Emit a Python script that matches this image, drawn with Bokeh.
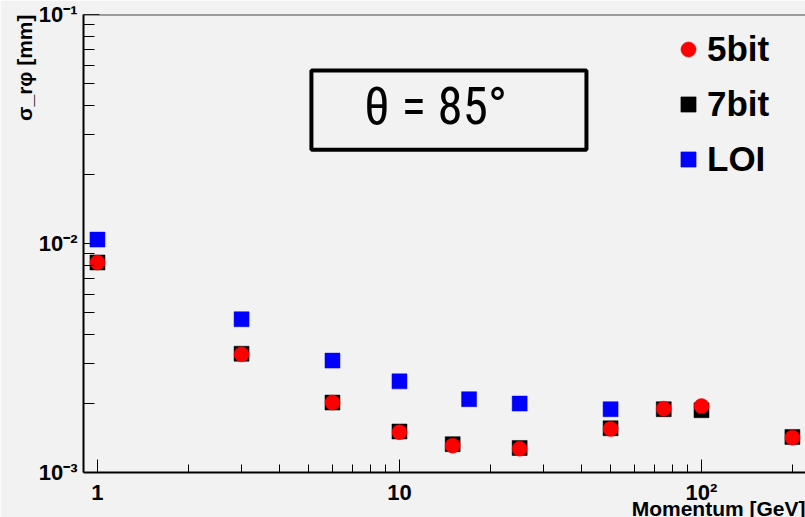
from bokeh.plotting import figure
from bokeh.models import (FixedTicker, Legend, LegendItem, Label, BoxAnnotation, Span, Title)
from bokeh.embed import file_html
from bokeh.resources import INLINE

# ---- data ----
momentum_5bit = [1, 3, 6, 10, 15, 25, 50, 75, 100, 200]
sigma_5bit = [0.00826, 0.00328, 0.00202, 0.00150, 0.00131, 0.00127, 0.00155, 0.00190, 0.00195, 0.00142]

momentum_7bit = [1, 3, 6, 10, 15, 25, 50, 75, 100, 200]
sigma_7bit = [0.00826, 0.00330, 0.00202, 0.00151, 0.00133, 0.00128, 0.00156, 0.00189, 0.00187, 0.00143]

momentum_loi = [1, 3, 6, 10, 17, 25, 50]
sigma_loi = [0.0104, 0.00467, 0.00308, 0.00250, 0.00209, 0.00200, 0.00189]

x_major_ticks = [1, 10, 100]
x_tick_labels = ["1", "10", "10\u00b2"]
y_major_ticks = [0.001, 0.01, 0.1]
y_tick_labels = ["10\u207b\u00b3", "10\u207b\u00b2", "10\u207b\u00b9"]

x_title = "Momentum [GeV]"
y_title = "\u03c3_r\u03c6 [mm]"
box_text = "\u03b8 = 85\u00b0"

BG = "#f2f2f2"
FONT = "Liberation Sans"

p = figure(width=805, height=517, x_axis_type="log", y_axis_type="log",
           x_range=(0.899, 221), y_range=(0.001, 0.1),
           output_backend="svg", toolbar_location=None, title=None,
           min_border_left=83, min_border_right=0, min_border_top=14,
           min_border_bottom=45)
p.background_fill_color = BG
p.border_fill_color = BG
p.outline_line_color = None
p.xgrid.visible = False
p.ygrid.visible = False

x_minor = [m * 10 ** e for e in range(0, 3) for m in range(2, 10)]
y_minor = [m * 10.0 ** e for e in (-3, -2) for m in range(2, 10)]
p.xaxis.ticker = FixedTicker(ticks=x_major_ticks, minor_ticks=x_minor)
p.yaxis.ticker = FixedTicker(ticks=y_major_ticks, minor_ticks=y_minor)
p.xaxis.major_label_overrides = {t: s for t, s in zip(x_major_ticks, x_tick_labels)}
p.yaxis.major_label_overrides = {t: s for t, s in zip(y_major_ticks, y_tick_labels)}

for ax in (p.xaxis, p.yaxis):
    ax.axis_line_color = "black"
    ax.axis_line_width = 2
    ax.major_tick_line_color = "black"
    ax.minor_tick_line_color = "black"
    ax.major_tick_out = 0
    ax.minor_tick_out = 0
    ax.major_label_text_font = FONT
    ax.major_label_text_font_style = "bold"
    ax.major_label_text_font_size = "22px"
    ax.major_label_text_color = "black"

p.xaxis.major_tick_in = 13
p.xaxis.minor_tick_in = 8
p.xaxis.major_label_standoff = 7
p.yaxis.major_tick_in = 16
p.yaxis.minor_tick_in = 11
p.yaxis.major_label_standoff = 6

# axis titles as side-panel titles (right-aligned = at the axis end)
p.add_layout(Title(text=x_title, align="right", vertical_align="bottom",
                   standoff=-25, text_font=FONT, text_font_style="bold",
                   text_font_size="21px", text_color="black"), "below")
p.add_layout(Title(text=y_title, align="right", vertical_align="bottom",
                   standoff=0, text_font=FONT, text_font_style="bold",
                   text_font_size="21px", text_color="black"), "left")

# top frame line
p.add_layout(Span(location=0.1, dimension="width", line_color="#444444", line_width=2))

r_loi = p.scatter(momentum_loi, sigma_loi, marker="square", size=15,
                  fill_color="#0000ff", line_color="#0000ff", line_width=0.5)
r_7 = p.scatter(momentum_7bit, sigma_7bit, marker="square", size=15,
                fill_color="black", line_color="black", line_width=0.5)
r_5 = p.scatter(momentum_5bit, sigma_5bit, marker="circle", size=15,
                fill_color="#ff0000", line_color="#ff0000", line_width=0.5)

legend = Legend(items=[LegendItem(label="5bit", renderers=[r_5]),
                       LegendItem(label="7bit", renderers=[r_7]),
                       LegendItem(label="LOI", renderers=[r_loi])],
                location=(586, 293), glyph_width=38, glyph_height=38,
                spacing=15, padding=5, margin=0, label_standoff=0,
                label_text_font=FONT, label_text_font_style="bold",
                label_text_font_size="35px", label_text_color="black",
                border_line_color=None, background_fill_alpha=0)
p.add_layout(legend)

# text box
p.add_layout(BoxAnnotation(left=5.11, right=41.6, bottom=0.0257, top=0.0569,
                           fill_alpha=0, line_color="black", line_alpha=1.0,
                           line_width=4))
p.add_layout(Label(x=7.65, y=0.0395, text=box_text,
                   text_font="'Roboto Condensed', 'DejaVu Sans Condensed', 'Open Sans'",
                   text_font_size="51px", text_color="black",
                   text_baseline="alphabetic", text_align="left"))

open("out.html", "w").write(file_html(p, INLINE))
